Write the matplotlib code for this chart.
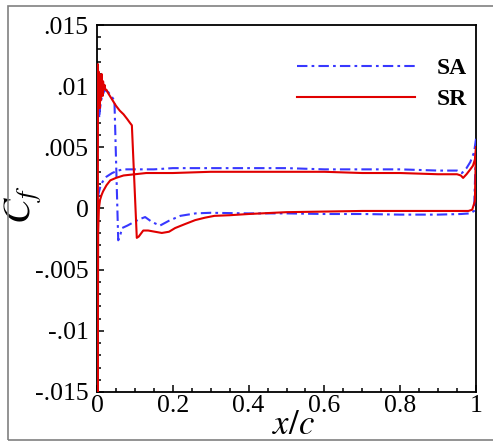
import matplotlib
matplotlib.use("Agg")
import matplotlib.pyplot as plt
import numpy as np
from matplotlib.patches import Rectangle
from matplotlib.ticker import MultipleLocator, FixedLocator

plt.rcParams['font.family'] = ['Liberation Serif', 'DejaVu Serif']
plt.rcParams['mathtext.fontset'] = 'stix'

# Skin-friction coefficient along the chord, SA model.
# Branch with attached flow (positive Cf), leading edge -> trailing edge
sa_pos_x = [0.0, 0.001, 0.004, 0.008, 0.015, 0.025, 0.04, 0.055, 0.07, 0.1, 0.15, 0.2, 0.3,
            0.4, 0.5, 0.6, 0.7, 0.8, 0.9, 0.95, 0.963, 0.975, 0.985, 0.995, 1.0]
sa_pos_cf = [0.0, 0.0006, 0.0012, 0.0017, 0.0022, 0.0026, 0.0029, 0.0031, 0.0032, 0.0032, 0.0032,
             0.0033, 0.0033, 0.0033, 0.0033, 0.0032, 0.0032, 0.0032, 0.0031, 0.0031, 0.0029,
             0.0033, 0.0038, 0.0046, 0.0057]
# Branch with the leading-edge peak and the separated region
sa_neg_x = [0.0, 0.001, 0.002, 0.004, 0.006, 0.008, 0.012, 0.02, 0.03, 0.04, 0.046, 0.056, 0.062,
            0.066, 0.08, 0.092, 0.11, 0.127, 0.145, 0.166, 0.19, 0.22, 0.26, 0.3, 0.4, 0.5,
            0.6, 0.7, 0.8, 0.9, 0.96, 0.985, 0.995, 0.998, 1.0]
sa_neg_cf = [0.0, 0.0045, 0.0075, 0.0088, 0.0074, 0.0082, 0.0090, 0.0097, 0.0095, 0.0091, 0.0088,
             -0.0026, -0.0021, -0.0016, -0.0014, -0.0012, -0.0009, -0.0007, -0.0011, -0.0014,
             -0.0010, -0.0006, -0.0004, -0.00035, -0.0004, -0.0004, -0.00045, -0.00045,
             -0.0005, -0.0005, -0.00045, -0.0004, -0.0002, 0.003, 0.0055]

# Skin-friction coefficient along the chord, SR model.
sr_pos_x = [0.002, 0.003, 0.005, 0.008, 0.012, 0.016, 0.025, 0.035, 0.05, 0.07, 0.1, 0.13, 0.2,
            0.3, 0.4, 0.5, 0.6, 0.7, 0.8, 0.9, 0.95, 0.96, 0.966, 0.975, 0.985, 0.992, 0.998, 1.0]
sr_pos_cf = [-0.016, -0.002, 0.0, 0.0007, 0.0011, 0.0014, 0.0019, 0.0023, 0.0025, 0.0027, 0.0028,
             0.0029, 0.0029, 0.0030, 0.0030, 0.0030, 0.0030, 0.0029, 0.0029, 0.0028, 0.0028,
             0.0027, 0.0025, 0.0028, 0.0032, 0.0035, 0.0041, 0.0050]
sr_neg_x = [0.002, 0.0025, 0.003, 0.004, 0.005, 0.006, 0.007, 0.008, 0.009, 0.010, 0.011, 0.012,
            0.013, 0.014, 0.015, 0.016, 0.018, 0.02, 0.022, 0.025, 0.03, 0.04, 0.05, 0.06,
            0.07, 0.08, 0.087, 0.092, 0.105, 0.11, 0.122, 0.135, 0.153, 0.171, 0.19, 0.206,
            0.23, 0.259, 0.285, 0.31, 0.35, 0.4, 0.5, 0.6, 0.7, 0.8, 0.9, 0.98, 0.99, 0.997, 1.0]
sr_neg_cf = [-0.016, 0.0118, 0.0085, 0.0112, 0.0090, 0.0108, 0.0082, 0.0104, 0.0088, 0.0106,
             0.0094, 0.0110, 0.0096, 0.0102, 0.0092, 0.0104, 0.0098, 0.0101, 0.0097, 0.0097,
             0.0094, 0.0089, 0.0084, 0.0080, 0.0077, 0.0073, 0.0070, 0.0068, -0.0024, -0.0023,
             -0.0018, -0.0018, -0.0019, -0.0020, -0.0019, -0.0016, -0.0013, -0.00095, -0.00075,
             -0.0006, -0.00055, -0.00045, -0.0003, -0.00025, -0.0002, -0.0002, -0.0002,
             -0.0002, -0.0001, 0.0006, 0.0050]

x_ticks = [0, 0.2, 0.4, 0.6, 0.8, 1.0]
x_tick_labels = ['0', '0.2', '0.4', '0.6', '0.8', '1']
y_ticks = [-0.015, -0.01, -0.005, 0, 0.005, 0.01, 0.015]
y_tick_labels = ['-.015', '-.01', '-.005', '0', '.005', '.01', '.015']


def closed_path(pos_x, pos_cf, neg_x, neg_cf):
    """Walk trailing edge -> leading edge on one side, then back on the other."""
    xs = list(pos_x[::-1]) + list(neg_x)
    ys = list(pos_cf[::-1]) + list(neg_cf)
    return np.array(xs), np.array(ys)


fig = plt.figure(figsize=(4.93, 4.41), dpi=100)
ax = fig.add_axes([97 / 493, 1 - 392 / 441, (476 - 97) / 493, (392 - 25) / 441])

sa_x, sa_y = closed_path(sa_pos_x, sa_pos_cf, sa_neg_x, sa_neg_cf)
sr_x, sr_y = closed_path(sr_pos_x, sr_pos_cf, sr_neg_x, sr_neg_cf)

ax.plot(sa_x, sa_y, color='#3838ff', lw=1.5, linestyle=(0, (5, 2, 1.3, 2)), label='SA',
        zorder=3)
ax.plot(sr_x, sr_y, color='#e00000', lw=1.5, label='SR', zorder=4)

ax.set_xlim(0, 1)
ax.set_ylim(-0.015, 0.015)
ax.xaxis.set_major_locator(FixedLocator(x_ticks))
ax.set_xticklabels(x_tick_labels)
ax.yaxis.set_major_locator(FixedLocator(y_ticks))
ax.set_yticklabels(y_tick_labels)
ax.xaxis.set_minor_locator(MultipleLocator(0.05))
ax.yaxis.set_minor_locator(MultipleLocator(0.001))

for s in ax.spines.values():
    s.set_linewidth(1.3)
ax.tick_params(which='both', direction='in', top=False, right=False, width=1.1,
               labelsize=18.5)
ax.tick_params(which='major', length=5)
ax.tick_params(which='minor', length=3)
ax.tick_params(axis='x', pad=2)
ax.tick_params(axis='y', pad=6)

ax.set_xlabel(r'$x/c$', fontsize=25)
ax.xaxis.set_label_coords(0.518, -0.045)
ax.set_ylabel(r'$C_f$', fontsize=27)
ax.yaxis.set_label_coords(-0.14, 0.51)

leg = ax.legend(loc='upper left', bbox_to_anchor=((297 - 97) / 379, 0.912), frameon=False,
                borderpad=0, borderaxespad=0, handlelength=5.0, handletextpad=0.9,
                labelspacing=0.42, prop={'weight': 'bold', 'size': 17})

fig.add_artist(Rectangle((8 / 493, 1.5 / 441), 1.2, (441 - 1.5 - 5.5) / 441,
                         transform=fig.transFigure, fill=False, ec='#808080', lw=1.2))

fig.savefig('out.png', dpi=100)
